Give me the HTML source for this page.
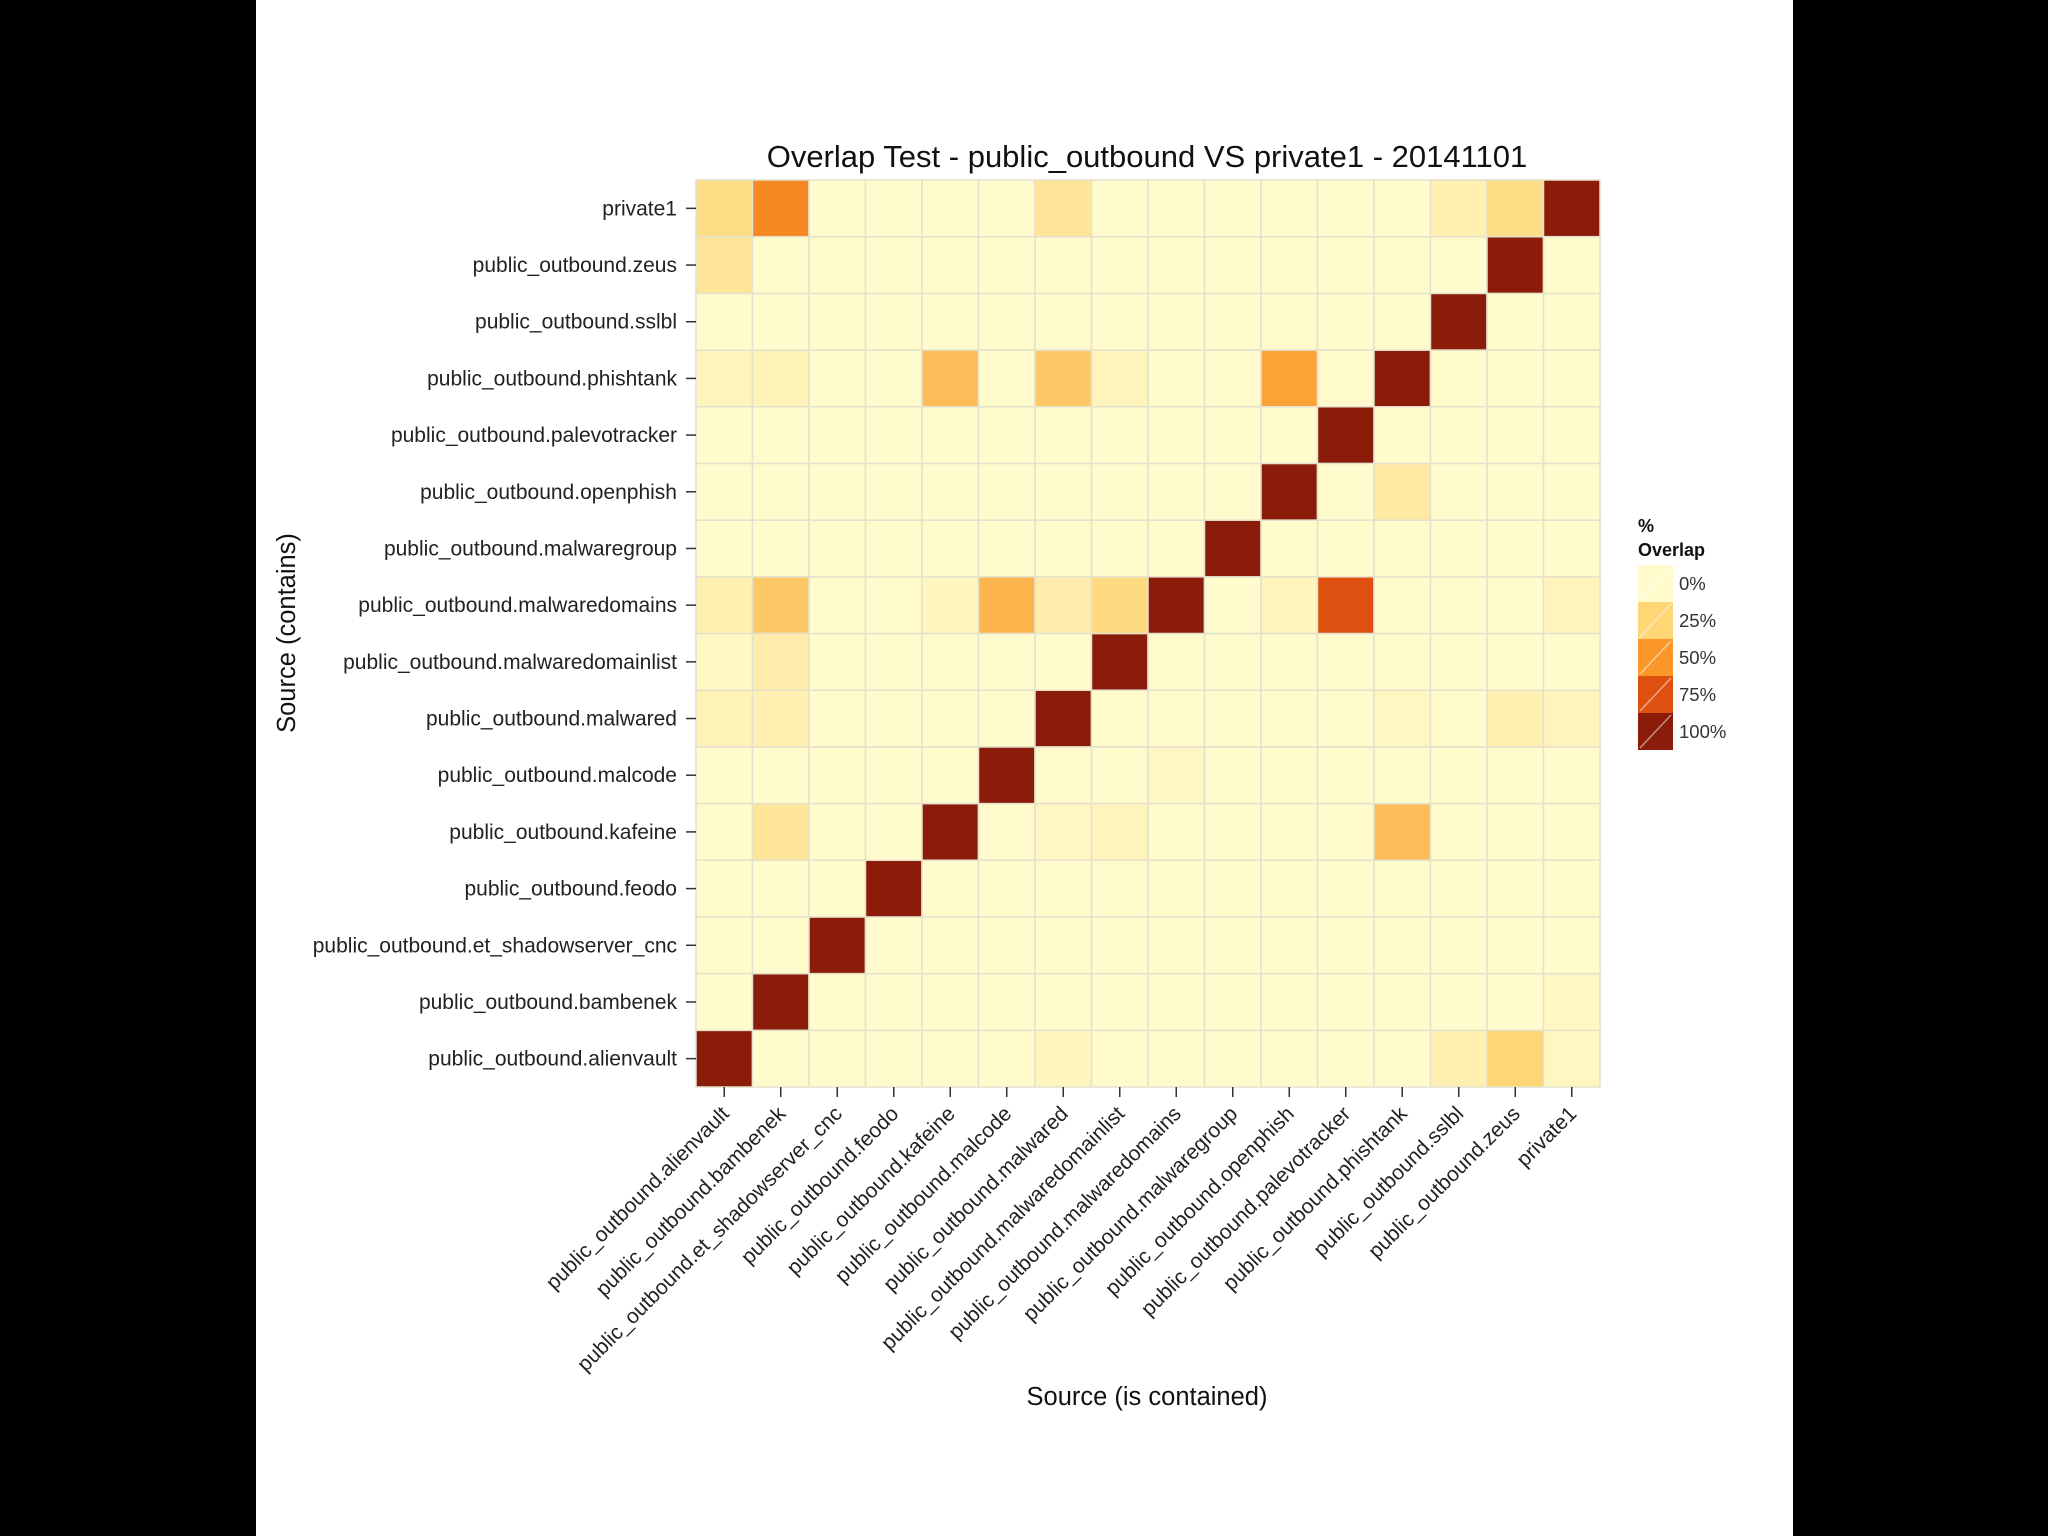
<!DOCTYPE html>
<html><head><meta charset="utf-8"><style>
html,body{margin:0;padding:0;background:#fff}
body{width:2048px;height:1536px;position:relative;overflow:hidden;font-family:"Liberation Sans",sans-serif}
.bar{position:absolute;top:0;height:1536px;background:#000}
</style></head><body>
<div class="bar" style="left:0;width:256px"></div>
<div class="bar" style="left:1793px;width:255px"></div>
<svg id="chart" width="2048" height="1536" style="position:absolute;left:0;top:0"></svg>
<script>
const categories = ["public_outbound.alienvault","public_outbound.bambenek","public_outbound.et_shadowserver_cnc","public_outbound.feodo","public_outbound.kafeine","public_outbound.malcode","public_outbound.malwared","public_outbound.malwaredomainlist","public_outbound.malwaredomains","public_outbound.malwaregroup","public_outbound.openphish","public_outbound.palevotracker","public_outbound.phishtank","public_outbound.sslbl","public_outbound.zeus","private1"];
const rowAlienvault = [1,0,0,0,0,0,0.04,0,0,0,0,0,0,0.08,0.25,0.03];
const rowBambenek = [0,1,0,0,0,0,0,0,0,0,0,0,0,0,0,0.02];
const rowEtShadow = [0,0,1,0,0,0,0,0,0,0,0,0,0,0,0,0];
const rowFeodo = [0,0,0,1,0,0,0,0,0,0,0,0,0,0,0,0];
const rowKafeine = [0,0.15,0,0,1,0,0.03,0.05,0,0,0,0,0.35,0,0,0];
const rowMalcode = [0,0,0,0,0,1,0,0,0.03,0,0,0,0,0,0,0];
const rowMalwared = [0.06,0.08,0,0,0,0,1,0,0,0,0,0,0.03,0,0.08,0.05];
const rowMalwaredomainlist = [0.02,0.1,0,0,0,0,0,1,0,0,0,0,0,0,0,0];
const rowMalwaredomains = [0.08,0.3,0,0,0.04,0.38,0.1,0.22,1,0,0.05,0.75,0,0,0,0.05];
const rowMalwaregroup = [0,0,0,0,0,0,0,0,0,1,0,0,0,0,0,0];
const rowOpenphish = [0,0,0,0,0,0,0,0,0,0,1,0,0.12,0,0,0];
const rowPalevotracker = [0,0,0,0,0,0,0,0,0,0,0,1,0,0,0,0];
const rowPhishtank = [0.05,0.06,0,0,0.35,0,0.3,0.05,0,0,0.45,0,1,0,0,0];
const rowSslbl = [0,0,0,0,0,0,0,0,0,0,0,0,0,1,0,0];
const rowZeus = [0.15,0,0,0,0,0,0,0,0,0,0,0,0,0,1,0];
const rowPrivate1 = [0.2,0.55,0,0,0,0,0.15,0,0,0,0,0,0,0.08,0.2,1];
const legendTicks = ["0%","25%","50%","75%","100%"];
const legendValues = [0,0.25,0.5,0.75,1];

const rows = [rowAlienvault,rowBambenek,rowEtShadow,rowFeodo,rowKafeine,rowMalcode,rowMalwared,rowMalwaredomainlist,rowMalwaredomains,rowMalwaregroup,rowOpenphish,rowPalevotracker,rowPhishtank,rowSslbl,rowZeus,rowPrivate1];

const NS="http://www.w3.org/2000/svg";
const svg=document.getElementById('chart');
const PL=696,PR=1600,PT=180,PB=1087;
const n=categories.length;
const cw=(PR-PL)/n, ch=(PB-PT)/n;
const xPos=i=>PL+i*cw;
const yPos=j=>PB-(j+1)*ch;
const stops=[[0,[255,251,204]],[0.25,[254,214,118]],[0.5,[251,150,40]],[0.75,[221,80,16]],[1,[139,28,10]]];
function color(v){
  for(let k=1;k<stops.length;k++){
    if(v<=stops[k][0]){const a=stops[k-1],b=stops[k];const t=(v-a[0])/(b[0]-a[0]);
      const c=a[1].map((x,i)=>Math.round(x+(b[1][i]-x)*t));return `rgb(${c})`;}
  }return 'rgb(139,28,10)';
}
function el(tag,attrs,txt){const e=document.createElementNS(NS,tag);for(const k in attrs)e.setAttribute(k,attrs[k]);if(txt!==undefined)e.textContent=txt;svg.appendChild(e);return e;}

let e=el('rect',{x:PL,y:PT,width:PR-PL,height:PB-PT,fill:'#ebebeb'});



rows.forEach((r,j)=>r.forEach((v,i)=>{
  const c=el('rect',{x:xPos(i),y:yPos(j),width:cw,height:ch,fill:color(v),stroke:'#e4e1cc','stroke-width':1.5});
  
  
}));

categories.forEach((name,j)=>{
  const y=yPos(j)+ch/2;
  const t=el('line',{x1:PL-10,x2:PL,y1:y,y2:y,stroke:'#333','stroke-width':1.5});
  
  
  const l=el('text',{x:PL-19,y:y+7,'text-anchor':'end','font-size':21,fill:'#222'},name);
  
  
});
categories.forEach((name,i)=>{
  const x=xPos(i)+cw/2;
  const t=el('line',{x1:x,x2:x,y1:PB,y2:PB+10,stroke:'#333','stroke-width':1.5});
  
  
  const l=el('text',{x:x+6,y:PB+28,'text-anchor':'end','font-size':21,fill:'#222',transform:`rotate(-45 ${x+6} ${PB+28})`},name);
  
  
});

e=el('text',{x:1147,y:167,'text-anchor':'middle','font-size':31,fill:'#111'},'Overlap Test - public_outbound VS private1 - 20141101');


e=el('text',{x:1147,y:1405,'text-anchor':'middle','font-size':25.5,fill:'#111'},'Source (is contained)');


e=el('text',{x:295,y:633,'text-anchor':'middle','font-size':25.5,fill:'#111',transform:'rotate(-90 295 633)'},'Source (contains)');



e=el('text',{x:1638,y:532,'font-size':18,'font-weight':'bold',fill:'#111'},'%');


e=el('text',{x:1638,y:556,'font-size':18,'font-weight':'bold',fill:'#111'},'Overlap');


legendValues.forEach((v,k)=>{
  const y=565+k*37;
  const r=el('rect',{x:1638,y:y,width:35,height:37,fill:color(v)});
  
  
  const d=el('line',{x1:1640,y1:y+35,x2:1671,y2:y+2,stroke:'rgba(255,255,255,0.5)','stroke-width':1.5});
  
  
  const t=el('text',{x:1679,y:y+25,'font-size':18.5,fill:'#333'},legendTicks[k]);
  
  
});
</script>
</body></html>
